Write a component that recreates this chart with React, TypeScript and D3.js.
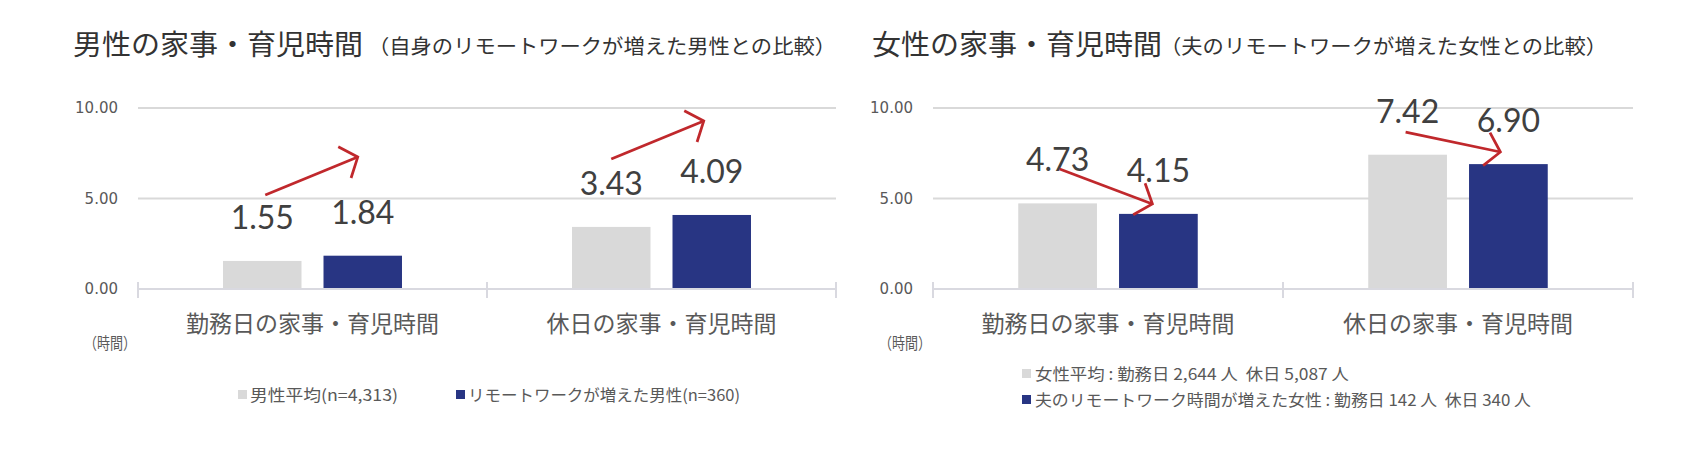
import React from "react";
import * as d3 from "d3";

const categories = ["勤務日の家事・育児時間", "休日の家事・育児時間"];
const yTicks = [0, 5, 10];

const maleAvg = [1.55, 3.43];
const maleRemote = [1.84, 4.09];
const femaleAvg = [4.73, 7.42];
const femaleRemote = [4.15, 6.9];

const maleTitle = "男性の家事・育児時間";
const maleSubtitle = "（自身のリモートワークが増えた男性との比較）";
const femaleTitle = "女性の家事・育児時間";
const femaleSubtitle = "（夫のリモートワークが増えた女性との比較）";

const maleLegend = ["男性平均(n=4,313)", "リモートワークが増えた男性(n=360)"];
const femaleLegend = [
  "女性平均 : 勤務日 2,644 人\u00a0\u00a0休日 5,087 人",
  "夫のリモートワーク時間が増えた女性 : 勤務日 142 人\u00a0\u00a0休日 340 人",
];

// arrow annotations in data units
const maleArrows = [
  { cat: 0, from: 5.19, to: 7.29, dx0: 3, dx1: -5 },
  { cat: 1, from: 7.18, to: 9.28, dx0: 0, dx1: -8 },
];
const femaleArrows = [
  { cat: 0, from: 6.63, to: 4.7, dx0: 2, dx1: -6 },
  { cat: 1, from: 8.67, to: 7.57, dx0: -2, dx1: -8 },
];

const GRAY = "#d9d9d9";
const BLUE = "#283583";
const RED = "#c0282c";
const TXT = "#595959";
const FONT = "'Noto Sans CJK JP', 'Noto Sans', sans-serif";
const NUMFONT = "Lato, 'Liberation Sans', sans-serif";

type Arrow = { cat: number; from: number; to: number; dx0: number; dx1: number };
type PanelProps = {
  x0: number;
  x1: number;
  title: string;
  subtitle: string;
  titleX: number;
  subX: number;
  subLen: number;
  avg: number[];
  remote: number[];
  arrows: Arrow[];
  legend: string[];
  legendMode: "row" | "col";
};

const y = d3.scaleLinear().domain([0, 10]).range([289, 108]);
const series = ["avg", "remote"];

function Panel(p: PanelProps) {
  const x = d3.scaleBand<string>().domain(categories).range([p.x0, p.x1]).padding(0);
  const inner = d3
    .scaleBand<string>()
    .domain(series)
    .range([0, x.bandwidth()])
    .paddingInner(0.219)
    .paddingOuter(0.846);
  const bw = inner.bandwidth();
  const cx = (ci: number, s: string) => (x(categories[ci]) as number) + (inner(s) as number) + bw / 2;

  const arrowPath = (a: Arrow) => {
    const sx = cx(a.cat, "avg") + a.dx0;
    const sy = y(a.from);
    const ex = cx(a.cat, "remote") + a.dx1;
    const ey = y(a.to);
    const ang = Math.atan2(sy - ey, sx - ex);
    const L = 22;
    const sp = (50 * Math.PI) / 180;
    const h1 = [ex + L * Math.cos(ang + sp), ey + L * Math.sin(ang + sp)];
    const h2 = [ex + L * Math.cos(ang - sp), ey + L * Math.sin(ang - sp)];
    return {
      line: `M${sx},${sy}L${ex},${ey}`,
      head: `M${h1[0]},${h1[1]}L${ex},${ey}L${h2[0]},${h2[1]}`,
    };
  };

  const ticksX = [p.x0, ...categories.map((c) => (x(c) as number) + x.bandwidth())];

  return (
    <g>
      <text x={p.titleX} y={55} fontFamily={FONT} fontSize={28} fill="#333" textLength={290} lengthAdjust="spacingAndGlyphs">
        {p.title}
      </text>
      <text x={p.subX} y={54} fontFamily={FONT} fontSize={20} fill="#333" textLength={p.subLen} lengthAdjust="spacingAndGlyphs">
        {p.subtitle}
      </text>
      {yTicks.map((t) => (
        <g key={t}>
          {t > 0 && <line x1={p.x0} x2={p.x1} y1={y(t)} y2={y(t)} stroke={GRAY} strokeWidth={2} />}
          <text x={p.x0 - 20} y={y(t) + 5} textAnchor="end" fontFamily="'DejaVu Sans', sans-serif" fontSize={15} fill={TXT}>
            {t.toFixed(2)}
          </text>
        </g>
      ))}
      {categories.map((c, i) => (
        <g key={c}>
          <rect x={cx(i, "avg") - bw / 2} y={y(p.avg[i])} width={bw} height={y(0) - y(p.avg[i])} fill={GRAY} />
          <rect x={cx(i, "remote") - bw / 2} y={y(p.remote[i])} width={bw} height={y(0) - y(p.remote[i])} fill={BLUE} />
          <text x={cx(i, "avg")} y={y(p.avg[i]) - 32} textAnchor="middle" fontFamily={NUMFONT} fontSize={32} fill="#404040">
            {p.avg[i].toFixed(2)}
          </text>
          <text x={cx(i, "remote")} y={y(p.remote[i]) - 32} textAnchor="middle" fontFamily={NUMFONT} fontSize={32} fill="#404040">
            {p.remote[i].toFixed(2)}
          </text>
          <text x={(x(c) as number) + x.bandwidth() / 2} y={332} textAnchor="middle" fontFamily={FONT} fontSize={23} fill={TXT}>
            {c}
          </text>
        </g>
      ))}
      <line x1={p.x0} x2={p.x1} y1={y(0)} y2={y(0)} stroke="#d9d9e0" strokeWidth={2} />
      {ticksX.map((tx, i) => (
        <line key={i} x1={tx} x2={tx} y1={282} y2={298} stroke="#d9d9e0" strokeWidth={2} />
      ))}
      <text x={p.x0 - 54} y={349} fontFamily={FONT} fontSize={16} fill={TXT} textLength={52} lengthAdjust="spacingAndGlyphs">
        （時間）
      </text>
      {p.arrows.map((a, i) => {
        const ap = arrowPath(a);
        return (
          <g key={i} fill="none" stroke={RED} strokeWidth={2.75}>
            <path d={ap.line} />
            <path d={ap.head} />
          </g>
        );
      })}
      {p.legendMode === "row" ? (
        <g fontFamily={FONT} fontSize={16} fill={TXT}>
          <rect x={p.x0 + 100} y={390} width={9} height={9} fill={GRAY} />
          <text x={p.x0 + 112} y={401} textLength={148} lengthAdjust="spacingAndGlyphs">{p.legend[0]}</text>
          <rect x={p.x0 + 318} y={390} width={9} height={9} fill={BLUE} />
          <text x={p.x0 + 330} y={401} textLength={272} lengthAdjust="spacingAndGlyphs">{p.legend[1]}</text>
        </g>
      ) : (
        <g fontFamily={FONT} fontSize={16} fill={TXT}>
          <rect x={p.x0 + 89} y={369} width={9} height={9} fill={GRAY} />
          <text x={p.x0 + 102} y={380} textLength={314} lengthAdjust="spacingAndGlyphs">{p.legend[0]}</text>
          <rect x={p.x0 + 89} y={395} width={9} height={9} fill={BLUE} />
          <text x={p.x0 + 102} y={406} textLength={496} lengthAdjust="spacingAndGlyphs">{p.legend[1]}</text>
        </g>
      )}
    </g>
  );
}

export default function App() {
  return (
    <svg width={1700} height={458} style={{ position: "absolute", left: 0, top: 0, background: "#fff" }}>
      <rect width={1700} height={458} fill="#fff" />
      <Panel
        x0={138}
        x1={836}
        title={maleTitle}
        subtitle={maleSubtitle}
        titleX={73}
        subX={368}
        subLen={468}
        avg={maleAvg}
        remote={maleRemote}
        arrows={maleArrows}
        legend={maleLegend}
        legendMode="row"
      />
      <Panel
        x0={933}
        x1={1633}
        title={femaleTitle}
        subtitle={femaleSubtitle}
        titleX={872}
        subX={1160}
        subLen={447}
        avg={femaleAvg}
        remote={femaleRemote}
        arrows={femaleArrows}
        legend={femaleLegend}
        legendMode="col"
      />
    </svg>
  );
}
